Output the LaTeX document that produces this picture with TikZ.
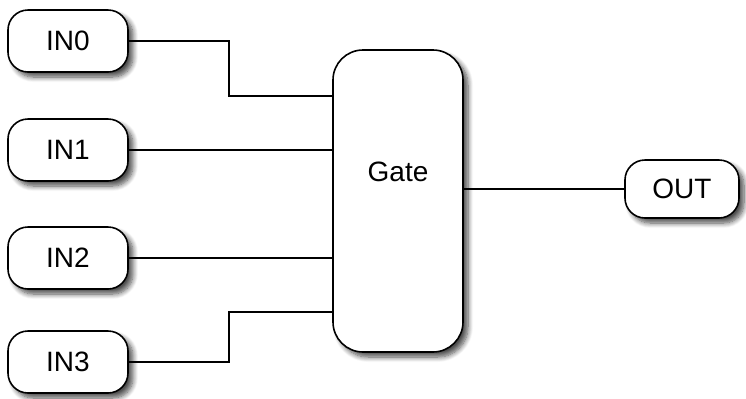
\documentclass[tikz,border=0pt]{standalone}
\usepackage{fontspec}
\setmainfont{Liberation Sans}
\usetikzlibrary{positioning,calc,shadows.blur}
\tikzset{
  blk/.style={draw=black, line width=0.8pt, fill=white, rounded corners=10pt,
              minimum width=60pt, minimum height=31pt,
              font=\fontsize{14}{16}\selectfont,
              blur shadow={shadow xshift=2.5pt, shadow yshift=-2.5pt,
                           shadow blur radius=2.5pt, shadow blur steps=8, shadow opacity=70}},
  gatebox/.style={blk, rounded corners=15pt, minimum width=65pt, minimum height=151pt},
  wire/.style={line width=0.8pt},
}
\begin{document}
\begin{tikzpicture}[x=0.5pt, y=-0.5pt]
  \useasboundingbox (0,0) rectangle (746,398);
  % inputs
  \node[blk] (in0) at (68,41) {IN0};
  \node[blk] (in1) at (68,150) {IN1};
  \node[blk] (in2) at (68,258) {IN2};
  \node[blk] (in3) at (68,362) {IN3};
  % gate and output
  \node[gatebox] (gate) at (398,201) {};
  \node[font=\fontsize{14}{16}\selectfont] (gatelabel) at ([yshift=14.5pt]gate.center) {Gate};
  \node[blk, minimum width=57pt, minimum height=29pt] (out) at (682,189) {OUT};
  % wires
  \draw[wire] (in0.east) -- ++(100,0) |- ([yshift=52.5pt]gate.west);
  \draw[wire] (in1.east) -- ([yshift=25.5pt]gate.west);
  \draw[wire] (in2.east) -- ([yshift=-28.5pt]gate.west);
  \draw[wire] (in3.east) -- ++(100,0) |- ([yshift=-55.5pt]gate.west);
  \draw[wire] (gate.east |- out.west) -- (out.west);
\end{tikzpicture}
\end{document}
